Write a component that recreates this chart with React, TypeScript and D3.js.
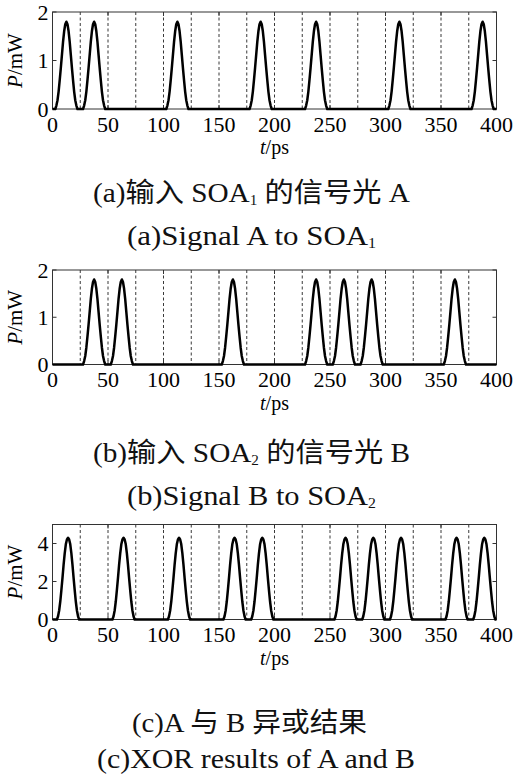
import React, { useEffect, useRef } from 'react';
import * as d3 from 'd3';

// time axis, ps
const timeTicks = [0, 50, 100, 150, 200, 250, 300, 350, 400];
const slotBounds = [25, 50, 75, 100, 125, 150, 175, 200, 225, 250, 275, 300, 325, 350, 375];
const slotWidth = 25;

// bit pattern per 25 ps slot
const bitsA = [1, 1, 0, 0, 1, 0, 0, 1, 0, 1, 0, 0, 1, 0, 0, 1];
const bitsB = [0, 1, 1, 0, 0, 0, 1, 0, 0, 1, 1, 1, 0, 0, 1, 0];
const bitsXor = [1, 0, 1, 0, 1, 0, 1, 1, 0, 0, 1, 1, 1, 0, 1, 1];

// peak power (mW) and delay of the pulses (ps)
const peakA = 1.8;
const peakB = 1.8;
const peakXor = 4.3;
const delayIn = 0;
const delayXor = 1.5;

// pulse profile around the peak, normalised, one sample per ps
const pulseOffsets = [-10, -9, -8, -7, -6, -5, -4, -3, -2, -1, 0, 1, 2, 3, 4, 5, 6, 7, 8, 9, 10];
const shapeIn = [0, 0.04, 0.1, 0.2, 0.33, 0.47, 0.62, 0.77, 0.89, 0.97, 1, 0.97, 0.89, 0.77, 0.62, 0.47, 0.33, 0.2, 0.1, 0.04, 0];
const shapeXor = [0, 0.04, 0.11, 0.22, 0.36, 0.51, 0.67, 0.81, 0.92, 0.98, 1, 0.98, 0.92, 0.81, 0.67, 0.51, 0.36, 0.22, 0.11, 0.04, 0];

const yTicksIn = [0, 1, 2];
const yTicksXor = [0, 2, 4];

// captions: [text, subscript?]
const captionA1 = [['(a)输入 SOA', false], ['1', true], [' 的信号光 A', false]];
const captionA2 = [['(a)Signal A to SOA', false], ['1', true]];
const captionB1 = [['(b)输入 SOA', false], ['2', true], [' 的信号光 B', false]];
const captionB2 = [['(b)Signal B to SOA', false], ['2', true]];
const captionC1 = [['(c)A 与 B 异或结果', false]];
const captionC2 = [['(c)XOR results of A and B', false]];

const pulseTrain = (bits, peak, shape, delay) => {
  const pts = [[0, 0]];
  bits.forEach((b, i) => {
    if (!b) return;
    const c = i * slotWidth + slotWidth / 2 + delay;
    pulseOffsets.forEach((o, k) => pts.push([c + o, peak * shape[k]]));
  });
  pts.push([400, 0]);
  return pts;
};

const SERIF = '"Liberation Serif", "Times New Roman", serif';
const CAPTION_FONT = '"Liberation Serif", "Noto Sans CJK SC", serif';

const App = () => {
  const svgRef = useRef(null);

  useEffect(() => {
    const width = 518;
    const height = 778;
    const left = 52.5;
    const right = 496.5;

    const panels = [
      {
        top: 12, bottom: 109, yMax: 2, yTicks: yTicksIn,
        data: pulseTrain(bitsA, peakA, shapeIn, delayIn),
        captions: [
          { segs: captionA1, x0: 93, x1: 410, y: 202 },
          { segs: captionA2, x0: 127, x1: 376, y: 245 },
        ],
      },
      {
        top: 270, bottom: 364.5, yMax: 2, yTicks: yTicksIn,
        data: pulseTrain(bitsB, peakB, shapeIn, delayIn),
        captions: [
          { segs: captionB1, x0: 93, x1: 410, y: 462 },
          { segs: captionB2, x0: 127, x1: 376, y: 505 },
        ],
      },
      {
        top: 524.5, bottom: 619.5, yMax: 5, yTicks: yTicksXor,
        data: pulseTrain(bitsXor, peakXor, shapeXor, delayXor),
        captions: [
          { segs: captionC1, x0: 132, x1: 367, y: 732 },
          { segs: captionC2, x0: 97, x1: 415, y: 768 },
        ],
      },
    ];

    const svg = d3.select(svgRef.current);
    svg.selectAll('*').remove();

    svg.append('rect').attr('width', width).attr('height', height).attr('fill', '#fff');

    const xScale = d3.scaleLinear().domain([0, 400]).range([left, right]);

    panels.forEach((p) => {
      const yScale = d3.scaleLinear().domain([0, p.yMax]).range([p.bottom, p.top]);
      const g = svg.append('g');

      // dashed slot boundaries
      g.selectAll('.grid')
        .data(slotBounds)
        .enter()
        .append('line')
        .attr('x1', (d) => xScale(d))
        .attr('x2', (d) => xScale(d))
        .attr('y1', p.top)
        .attr('y2', p.bottom)
        .attr('stroke', '#222')
        .attr('stroke-width', 0.9)
        .attr('stroke-dasharray', '3,2.5');

      // frame
      g.append('rect')
        .attr('x', left)
        .attr('y', p.top)
        .attr('width', right - left)
        .attr('height', p.bottom - p.top)
        .attr('fill', 'none')
        .attr('stroke', '#333')
        .attr('stroke-width', 1);

      // inward ticks
      p.yTicks.forEach((t) => {
        const y = yScale(t);
        g.append('line').attr('x1', left).attr('x2', left + 4).attr('y1', y).attr('y2', y).attr('stroke', '#333');
        g.append('line').attr('x1', right).attr('x2', right - 4).attr('y1', y).attr('y2', y).attr('stroke', '#333');
      });
      timeTicks.forEach((t) => {
        const x = xScale(t);
        g.append('line').attr('x1', x).attr('x2', x).attr('y1', p.bottom).attr('y2', p.bottom - 4).attr('stroke', '#333');
        g.append('line').attr('x1', x).attr('x2', x).attr('y1', p.top).attr('y2', p.top + 4).attr('stroke', '#333');
      });

      // signal
      const line = d3.line().x((d) => xScale(d[0])).y((d) => yScale(d[1]));
      g.append('path')
        .datum(p.data)
        .attr('d', line)
        .attr('fill', 'none')
        .attr('stroke', '#000')
        .attr('stroke-width', 2.5)
        .attr('stroke-linejoin', 'round');

      // tick labels
      g.selectAll('.xlab')
        .data(timeTicks)
        .enter()
        .append('text')
        .attr('x', (d) => xScale(d))
        .attr('y', p.bottom + 22.5)
        .attr('text-anchor', 'middle')
        .attr('font-family', SERIF)
        .attr('font-size', 22)
        .attr('fill', '#000')
        .text((d) => d);

      g.selectAll('.ylab')
        .data(p.yTicks)
        .enter()
        .append('text')
        .attr('x', left - 4)
        .attr('y', (d) => yScale(d))
        .attr('dy', '0.35em')
        .attr('text-anchor', 'end')
        .attr('font-family', SERIF)
        .attr('font-size', 22)
        .attr('fill', '#000')
        .text((d) => d);

      // axis titles
      const yt = g.append('text')
        .attr('transform', `translate(22, ${(p.top + p.bottom) / 2}) rotate(-90)`)
        .attr('text-anchor', 'middle')
        .attr('font-family', SERIF)
        .attr('font-size', 21)
        .attr('fill', '#000');
      yt.append('tspan').attr('font-style', 'italic').text('P');
      yt.append('tspan').text('/mW');

      const xt = g.append('text')
        .attr('x', (left + right) / 2)
        .attr('y', p.bottom + 45)
        .attr('text-anchor', 'middle')
        .attr('font-family', SERIF)
        .attr('font-size', 20)
        .attr('fill', '#000');
      xt.append('tspan').attr('font-style', 'italic').text('t');
      xt.append('tspan').text('/ps');

      // captions
      p.captions.forEach((c) => {
        const txt = g.append('text')
          .attr('x', c.x0)
          .attr('y', c.y)
          .attr('font-family', CAPTION_FONT)
          .attr('font-size', 27)
          .attr('fill', '#111')
          .attr('textLength', c.x1 - c.x0)
          .attr('lengthAdjust', 'spacingAndGlyphs');
        let shifted = false;
        c.segs.forEach(([s, sub]) => {
          const ts = txt.append('tspan').text(s);
          if (sub) {
            ts.attr('font-size', 14).attr('dy', 3);
            shifted = true;
          } else if (shifted) {
            ts.attr('dy', -3);
            shifted = false;
          }
        });
      });
    });

    return () => {
      d3.select(svgRef.current).selectAll('*').remove();
    };
  }, []);

  return (
    <svg
      ref={svgRef}
      width={518}
      height={778}
      style={{ position: 'absolute', left: 0, top: 0, display: 'block' }}
    />
  );
};

export default App;
